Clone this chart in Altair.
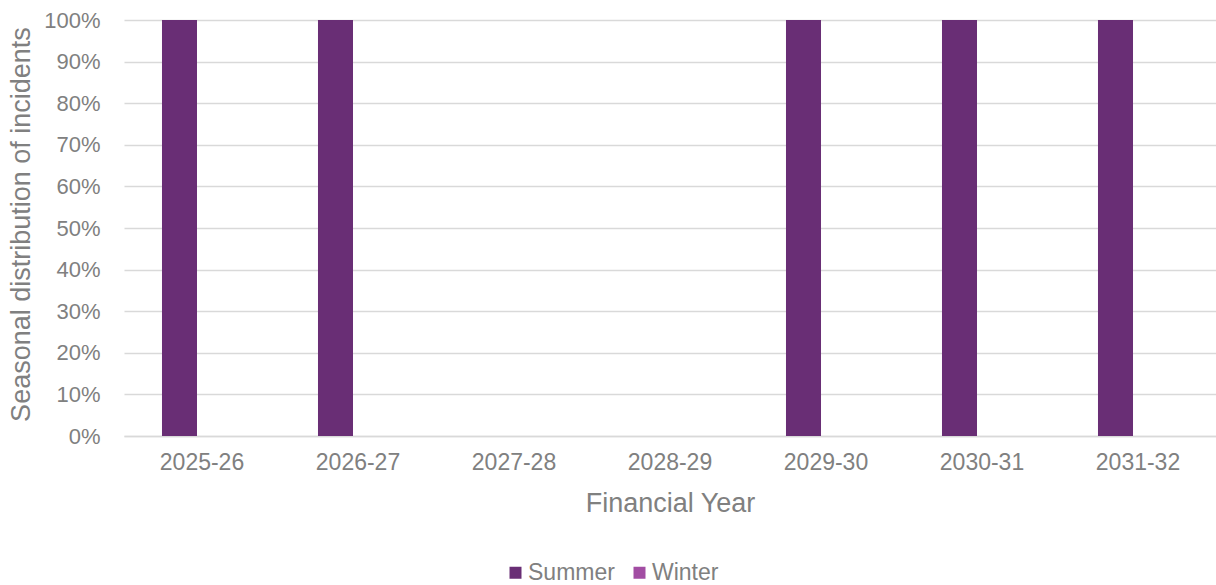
import altair as alt
import pandas as pd

years = ["2025-26", "2026-27", "2027-28", "2028-29", "2029-30", "2030-31", "2031-32"]
summer = [1.0, 1.0, 0.0, 0.0, 1.0, 1.0, 1.0]
winter = [0.0, 0.0, 0.0, 0.0, 0.0, 0.0, 0.0]
seasons = ["Summer", "Winter"]
colors = ["#692E75", "#A24DA3"]

rows = []
for i, y in enumerate(years):
    rows.append({"year": y, "season": "Summer", "value": summer[i]})
    rows.append({"year": y, "season": "Winter", "value": winter[i]})
df = pd.DataFrame(rows)

FONT = "Liberation Sans"
GREY = "#808080"

chart = alt.Chart(df).mark_bar().encode(
    x=alt.X("year:N", sort=years,
            scale=alt.Scale(paddingInner=0.487, paddingOuter=0.2435),
            axis=alt.Axis(title="Financial Year", labelAngle=0, ticks=False,
                          labelPadding=15, labelFontSize=23, labelColor=GREY,
                          titleFontSize=27, titleColor=GREY, titleFontWeight="normal",
                          titleBaseline="middle", titleY=67,
                          domainColor="#d9d9d9", domainWidth=1.5)),
    xOffset=alt.XOffset("season:N", sort=seasons,
                        scale=alt.Scale(paddingInner=0.222, paddingOuter=0)),
    y=alt.Y("value:Q", scale=alt.Scale(domain=[0, 1], nice=False),
            axis=alt.Axis(title="Seasonal distribution of incidents", format=".0%",
                          values=[i / 10 for i in range(11)], ticks=False, domain=False,
                          labelPadding=24, labelFontSize=22, labelColor=GREY,
                          titleFontSize=27, titleColor=GREY, titleFontWeight="normal",
                          titleAngle=270, titleAlign="center", titleBaseline="middle",
                          titleX=-103, titleY=204,
                          gridColor="#d9d9d9", gridWidth=1.5)),
    color=alt.Color("season:N", sort=seasons,
                    scale=alt.Scale(domain=seasons, range=colors),
                    legend=alt.Legend(title=None, orient="none", direction="horizontal",
                                      legendX=380, legendY=541, symbolType="square",
                                      symbolSize=144, symbolStrokeWidth=0,
                                      labelFontSize=23, labelColor=GREY,
                                      labelOffset=1, columnPadding=13, padding=0)),
).properties(
    width=1092, height=416,
    autosize=alt.AutoSizeParams(type="none"),
    padding={"left": 124, "top": 20, "right": 0, "bottom": 149},
).configure(font=FONT).configure_view(stroke=None)

chart.save("out.html", embed_options={"renderer": "svg", "actions": False})
